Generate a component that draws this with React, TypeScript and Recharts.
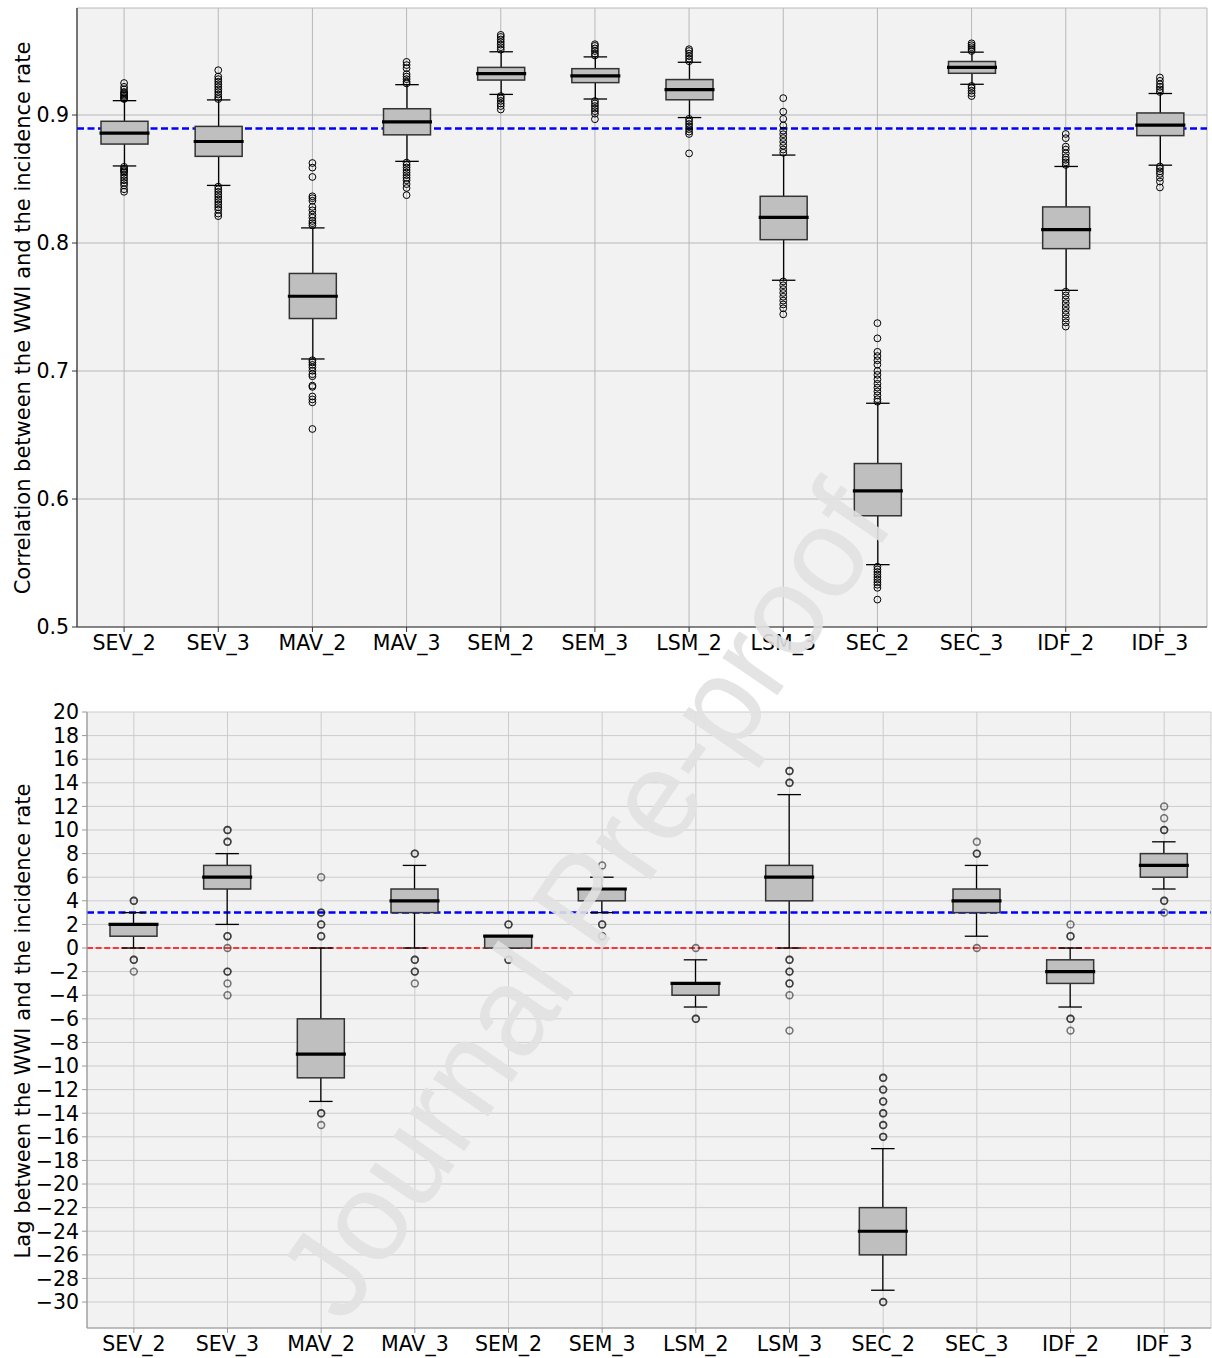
import React from 'react';
import { ComposedChart, Bar, Scatter, XAxis, YAxis, CartesianGrid, ReferenceLine } from 'recharts';

const categories = ['SEV_2', 'SEV_3', 'MAV_2', 'MAV_3', 'SEM_2', 'SEM_3', 'LSM_2', 'LSM_3', 'SEC_2', 'SEC_3', 'IDF_2', 'IDF_3'];

// Top panel: correlation between WWI and incidence rate
const corrWhiskerLow = [0.8602, 0.845, 0.7094, 0.8638, 0.9161, 0.9125, 0.898, 0.7709, 0.5487, 0.924, 0.763, 0.8608];
const corrQ1 = [0.8773, 0.8677, 0.741, 0.8845, 0.9273, 0.9253, 0.9119, 0.8026, 0.5869, 0.9326, 0.7956, 0.8839];
const corrMedian = [0.8858, 0.8793, 0.7584, 0.8947, 0.9323, 0.9306, 0.9198, 0.82, 0.6063, 0.9372, 0.8105, 0.8921];
const corrQ3 = [0.8951, 0.8911, 0.7762, 0.9049, 0.9372, 0.9362, 0.9277, 0.8365, 0.6277, 0.9418, 0.8282, 0.9016];
const corrWhiskerHigh = [0.9112, 0.9118, 0.8118, 0.9237, 0.9494, 0.9454, 0.9412, 0.8687, 0.6748, 0.9491, 0.8598, 0.9168];
const corrOutliers = [
  [0.925, 0.922, 0.92, 0.918, 0.917, 0.916, 0.915, 0.914, 0.913, 0.9125, 0.8595, 0.858, 0.857, 0.856, 0.855, 0.853, 0.851, 0.849, 0.847, 0.845, 0.842, 0.84],
  [0.935, 0.93, 0.928, 0.926, 0.924, 0.922, 0.92, 0.918, 0.916, 0.914, 0.9125, 0.844, 0.842, 0.84, 0.838, 0.836, 0.834, 0.832, 0.83, 0.828, 0.826, 0.823, 0.821],
  [0.8625, 0.8589, 0.8516, 0.8365, 0.835, 0.833, 0.8282, 0.8255, 0.8222, 0.8198, 0.8172, 0.8155, 0.8138, 0.7084, 0.7067, 0.7048, 0.7028, 0.7002, 0.6975, 0.6959, 0.6886, 0.6876, 0.6801, 0.6778, 0.6755, 0.6547],
  [0.9415, 0.939, 0.9365, 0.932, 0.93, 0.928, 0.926, 0.9247, 0.8628, 0.861, 0.859, 0.857, 0.855, 0.853, 0.851, 0.849, 0.846, 0.843, 0.8374],
  [0.9626, 0.961, 0.959, 0.957, 0.955, 0.953, 0.951, 0.9148, 0.913, 0.911, 0.909, 0.907, 0.9043],
  [0.9553, 0.954, 0.952, 0.95, 0.948, 0.9465, 0.9109, 0.909, 0.907, 0.905, 0.903, 0.901, 0.8967],
  [0.9514, 0.95, 0.948, 0.946, 0.944, 0.942, 0.897, 0.895, 0.893, 0.891, 0.889, 0.887, 0.8852, 0.87],
  [0.9132, 0.9026, 0.897, 0.8918, 0.8878, 0.885, 0.882, 0.879, 0.876, 0.873, 0.8705, 0.77, 0.767, 0.764, 0.761, 0.758, 0.755, 0.752, 0.749, 0.7443],
  [0.7374, 0.7255, 0.715, 0.7117, 0.7084, 0.705, 0.7, 0.697, 0.6935, 0.69, 0.687, 0.684, 0.681, 0.678, 0.676, 0.5471, 0.545, 0.543, 0.541, 0.539, 0.537, 0.535, 0.533, 0.5306, 0.5214],
  [0.956, 0.9545, 0.953, 0.9515, 0.95, 0.9227, 0.921, 0.919, 0.917, 0.9148],
  [0.8852, 0.8819, 0.8753, 0.873, 0.87, 0.867, 0.865, 0.863, 0.861, 0.762, 0.759, 0.756, 0.753, 0.75, 0.747, 0.744, 0.741, 0.738, 0.7347],
  [0.9293, 0.9267, 0.924, 0.922, 0.92, 0.918, 0.8598, 0.858, 0.856, 0.854, 0.851, 0.848, 0.8434],
];
const corrTicks = [0.5, 0.6, 0.7, 0.8, 0.9];
const corrReference = 0.8895;

// Bottom panel: lag between WWI and incidence rate
const lagWhiskerLow = [0, 2, -13, 0, 0, 3, -5, 0, -29, 1, -5, 5];
const lagQ1 = [1, 5, -11, 3, 0, 4, -4, 4, -26, 3, -3, 6];
const lagMedian = [2, 6, -9, 4, 1, 5, -3, 6, -24, 4, -2, 7];
const lagQ3 = [2, 7, -6, 5, 1, 5, -3, 7, -22, 5, -1, 8];
const lagWhiskerHigh = [3, 8, 0, 7, 1, 6, -1, 13, -17, 7, 0, 9];
const lagOutliers = [
  [4, 4, -1, -1, -2],
  [10, 10, 9, 9, 1, 1, 0, -2, -2, -3, -4],
  [6, 3, 3, 2, 2, 1, 1, -14, -14, -15],
  [8, 8, -1, -1, -2, -2, -3],
  [2, 2, -1, -1],
  [7, 2, 2, 1, 1],
  [0, -6, -6],
  [15, 15, 14, 14, -1, -1, -2, -2, -3, -3, -4, -7],
  [-11, -11, -12, -12, -13, -13, -14, -14, -15, -15, -16, -16, -30, -30],
  [9, 8, 8, 0],
  [2, 1, 1, -6, -6, -7],
  [12, 11, 10, 10, 4, 4, 3],
];
const lagTicks = [-30, -28, -26, -24, -22, -20, -18, -16, -14, -12, -10, -8, -6, -4, -2, 0, 2, 4, 6, 8, 10, 12, 14, 16, 18, 20];
const lagReference = 3;
const lagZero = 0;

const buildRows = (lo: number[], q1: number[], med: number[], q3: number[], hi: number[]) =>
  categories.map((name, i) => ({ name, lo: lo[i], q1: q1[i], med: med[i], q3: q3[i], hi: hi[i], whisker: [lo[i], hi[i]] }));

const buildPoints = (outliers: number[][]) =>
  categories.flatMap((name, i) => outliers[i].map((v) => ({ name, v })));

const corrRows = buildRows(corrWhiskerLow, corrQ1, corrMedian, corrQ3, corrWhiskerHigh);
const corrPoints = buildPoints(corrOutliers);
const lagRows = buildRows(lagWhiskerLow, lagQ1, lagMedian, lagQ3, lagWhiskerHigh);
const lagPoints = buildPoints(lagOutliers);

const FONT = 'DejaVu Sans';

// box drawn inside the whisker range bar; positions follow the bar's own scale
const BoxShape = (props: any) => {
  const { x, y, width, height, payload } = props;
  const top = Math.min(y, y + height);
  const h = Math.abs(height);
  const span = payload.hi - payload.lo;
  const py = (v: number) => (span === 0 ? top : top + ((payload.hi - v) / span) * h);
  const cx = x + width / 2;
  const cap = width / 4;
  const yHi = py(payload.hi);
  const yQ3 = py(payload.q3);
  const yMed = py(payload.med);
  const yQ1 = py(payload.q1);
  const yLo = py(payload.lo);
  return (
    <g>
      <line x1={cx} x2={cx} y1={yHi} y2={yQ3} stroke="#000" strokeWidth={1.3} />
      <line x1={cx} x2={cx} y1={yQ1} y2={yLo} stroke="#000" strokeWidth={1.3} />
      <line x1={cx - cap} x2={cx + cap} y1={yHi} y2={yHi} stroke="#000" strokeWidth={1.3} />
      <line x1={cx - cap} x2={cx + cap} y1={yLo} y2={yLo} stroke="#000" strokeWidth={1.3} />
      <rect x={x} y={yQ3} width={width} height={Math.max(yQ1 - yQ3, 0)} fill="#bfbfbf" stroke="#333" strokeWidth={1.5} />
      <line x1={x - 1.5} x2={x + width + 1.5} y1={yMed} y2={yMed} stroke="#000" strokeWidth={3.2} />
    </g>
  );
};

const TopDot = (p: any) => <circle cx={p.cx} cy={p.cy} r={3.4} fill="none" stroke="#000" strokeWidth={1} />;
const BottomDot = (p: any) => (
  <circle cx={p.cx} cy={p.cy} r={3.4} fill="none" stroke="#111" strokeOpacity={0.55} strokeWidth={1.6} />
);

const tickStyle = { fill: '#000', fontSize: 20.5, fontFamily: FONT };
const minus = (v: number) => String(v).replace('-', '\u2212');

const yLabel = (text: string, top: number) => (
  <div
    style={{
      position: 'absolute',
      left: 23,
      top,
      transform: 'translate(-50%, -50%) rotate(-90deg)',
      whiteSpace: 'nowrap',
      fontFamily: FONT,
      fontSize: 21,
      color: '#000',
    }}
  >
    {text}
  </div>
);

export default function App() {
  return (
    <div style={{ position: 'absolute', left: 0, top: 0, width: 1212, height: 1358, background: '#fff', overflow: 'hidden' }}>
      <div style={{ position: 'absolute', left: 0, top: 0 }}>
        <ComposedChart width={1212} height={660} data={corrRows} margin={{ top: 8, right: 5, left: 0, bottom: 0 }}>
          <CartesianGrid fill="#f2f2f2" stroke="#b8b8b8" strokeWidth={1} />
          <XAxis
            dataKey="name"
            type="category"
            allowDuplicatedCategory={false}
            interval={0}
            height={33}
            tick={tickStyle}
            tickSize={5}
            tickMargin={3}
            tickLine={{ stroke: '#333' }}
            axisLine={{ stroke: '#333', strokeWidth: 1.2 }}
          />
          <XAxis xAxisId="top" orientation="top" dataKey="name" height={0} tick={false} tickLine={false} axisLine={{ stroke: '#333', strokeWidth: 1.2 }} />
          <YAxis
            type="number"
            domain={[0.5, 0.9836]}
            ticks={corrTicks}
            allowDataOverflow
            width={77}
            tick={tickStyle}
            tickSize={5}
            tickMargin={3}
            tickFormatter={(v: number) => v.toFixed(1)}
            tickLine={{ stroke: '#333' }}
            axisLine={{ stroke: '#333', strokeWidth: 1.2 }}
          />
          <YAxis yAxisId="right" orientation="right" width={0} tick={false} tickLine={false} axisLine={{ stroke: '#333', strokeWidth: 1.2 }} />
          <ReferenceLine y={corrReference} stroke="#0000ff" strokeWidth={2.5} strokeDasharray="7 3.5" zIndex={250} />
          <Bar dataKey="whisker" barSize={47} shape={BoxShape} isAnimationActive={false} />
          <Scatter data={corrPoints} dataKey="v" shape={TopDot} isAnimationActive={false} />
        </ComposedChart>
      </div>
      {yLabel('Correlation between the WWI and the incidence rate', 318)}

      <div style={{ position: 'absolute', left: 0, top: 690 }}>
        <ComposedChart width={1212} height={668} data={lagRows} margin={{ top: 22, right: 1, left: 0, bottom: 0 }}>
          <CartesianGrid fill="#f2f2f2" stroke="#cccccc" strokeWidth={1} />
          <XAxis
            dataKey="name"
            type="category"
            allowDuplicatedCategory={false}
            interval={0}
            height={30}
            tick={tickStyle}
            tickSize={5}
            tickMargin={3}
            tickLine={{ stroke: '#999' }}
            axisLine={{ stroke: '#999', strokeWidth: 1.2 }}
          />
          <XAxis xAxisId="top" orientation="top" dataKey="name" height={0} tick={false} tickLine={false} axisLine={{ stroke: '#999', strokeWidth: 1.2 }} />
          <YAxis
            type="number"
            domain={[-32.2, 20]}
            ticks={lagTicks}
            allowDataOverflow
            interval={0}
            width={87}
            tick={tickStyle}
            tickSize={5}
            tickMargin={3}
            tickFormatter={minus}
            tickLine={{ stroke: '#999' }}
            axisLine={{ stroke: '#999', strokeWidth: 1.2 }}
          />
          <YAxis yAxisId="right" orientation="right" width={0} tick={false} tickLine={false} axisLine={{ stroke: '#999', strokeWidth: 1.2 }} />
          <ReferenceLine y={lagReference} stroke="#0000ff" strokeWidth={2.5} strokeDasharray="7 3.5" zIndex={250} />
          <ReferenceLine y={lagZero} stroke="#ff0000" strokeWidth={1.6} strokeDasharray="6 2.6" zIndex={250} />
          <Bar dataKey="whisker" barSize={47} shape={BoxShape} isAnimationActive={false} />
          <Scatter data={lagPoints} dataKey="v" shape={BottomDot} isAnimationActive={false} />
        </ComposedChart>
      </div>
      {yLabel('Lag between the WWI and the incidence rate', 1021)}

      <div
        style={{
          position: 'absolute',
          left: 584,
          top: 900,
          transform: 'translate(-50%, -50%) rotate(-55.5deg)',
          whiteSpace: 'nowrap',
          fontFamily: 'Liberation Sans',
          fontSize: 126,
          color: '#e2e2e2',
          opacity: 0.9,
          pointerEvents: 'none',
        }}
      >
        Journal Pre-proof
      </div>
    </div>
  );
}
